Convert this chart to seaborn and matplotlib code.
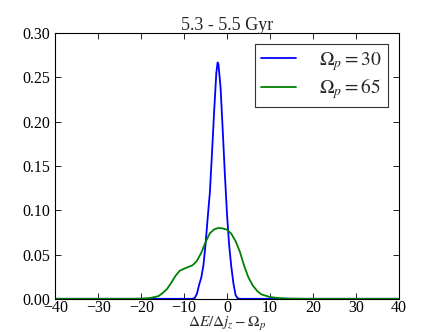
import numpy as np
import pandas as pd
import matplotlib
matplotlib.use("Agg")
import matplotlib.pyplot as plt
import seaborn as sns
from matplotlib.ticker import FormatStrFormatter, MultipleLocator

# values
x_blue = [-40, -8, -7.5, -7, -6.5, -6, -5.5, -5, -4.5, -4, -3.5, -3, -2.5, -2.2,
          -2, -1.5, -1, -0.5, 0, 0.5, 1, 1.5, 2, 2.5, 3, 40]
y_blue = [0, 0, 0.001, 0.006, 0.016, 0.024, 0.038, 0.062, 0.092, 0.12, 0.165, 0.212,
          0.255, 0.267, 0.265, 0.238, 0.19, 0.14, 0.095, 0.06, 0.036, 0.017, 0.004,
          0.0005, 0, 0]

x_green = [-40, -22, -20, -18, -16, -15, -14, -13, -12, -11, -10, -9, -8, -7, -6, -5,
           -4, -3, -2, -1, 0, 1, 2, 3, 4, 5, 6, 7, 8, 10, 12, 15, 18, 40]
y_green = [0, 0, 0.0002, 0.0008, 0.003, 0.0065, 0.011, 0.018, 0.026, 0.0317, 0.034,
           0.036, 0.038, 0.043, 0.052, 0.064, 0.074, 0.0785, 0.080, 0.0795, 0.078,
           0.0735, 0.065, 0.053, 0.037, 0.024, 0.015, 0.009, 0.005, 0.002, 0.0008,
           0.0002, 0, 0]

labels = [r"$\Omega_p = 30$", r"$\Omega_p = 65$"]
title = "5.3 - 5.5 Gyr"

sns.set_style("ticks")
plt.rcParams["font.family"] = ["Liberation Serif", "DejaVu Serif"]
plt.rcParams["mathtext.fontset"] = "stix"
plt.rcParams["axes.unicode_minus"] = True

fig = plt.figure(figsize=(4.43, 3.32), dpi=100)
ax = fig.add_axes([0.125, 0.1, 0.775, 0.8])

df_blue = pd.DataFrame({"x": x_blue, "y": y_blue})
df_green = pd.DataFrame({"x": x_green, "y": y_green})
sns.lineplot(data=df_blue, x="x", y="y", color="#0000ff", lw=1.3, label=labels[0], ax=ax)
sns.lineplot(data=df_green, x="x", y="y", color="#008000", lw=1.3, label=labels[1], ax=ax)

ax.set_xlim(-40, 40)
ax.set_ylim(0, 0.30)
ax.xaxis.set_major_locator(MultipleLocator(10))
ax.yaxis.set_major_locator(MultipleLocator(0.05))
ax.yaxis.set_major_formatter(FormatStrFormatter("%.2f"))
ax.tick_params(direction="in", top=True, right=True, length=4, width=0.6,
               labelsize=11.5, colors="black", pad=3.5)
ax.tick_params(axis="x", pad=1)
for s in ax.spines.values():
    s.set_color("black")
    s.set_linewidth(0.8)

ax.set_title(title, fontsize=13, pad=2)
ax.set_xlabel(r"$\Delta E/\Delta j_z - \Omega_p$", fontsize=11, labelpad=-0.5)
ax.set_ylabel("")

leg = ax.legend(loc="upper right", fontsize=14, frameon=True, fancybox=False,
                handlelength=1.8, handletextpad=1.2, borderpad=0.3, labelspacing=0.2,
                borderaxespad=0.55)
leg.get_frame().set_edgecolor("black")
leg.get_frame().set_linewidth(0.8)

fig.savefig("out.png", dpi=100)
